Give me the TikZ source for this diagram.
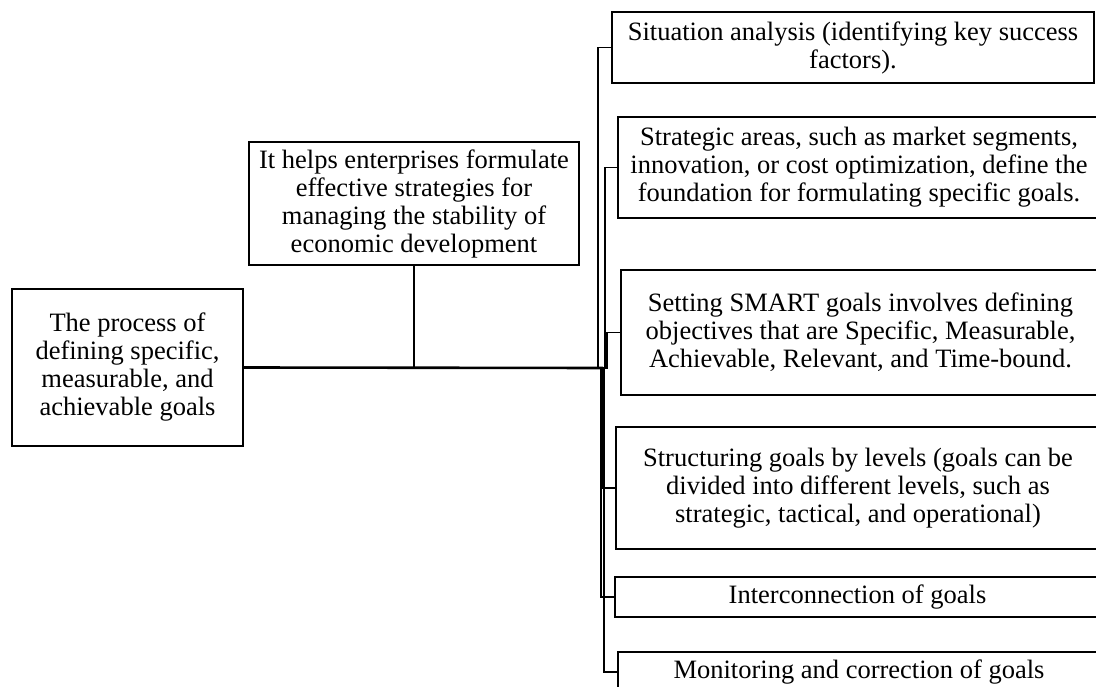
\documentclass[tikz,border=0pt]{standalone}
\usepackage{fontspec}
\setmainfont{Liberation Serif}
\begin{document}
\begin{tikzpicture}[x=1pt,y=-1pt,
    box/.style={draw, line width=2pt, align=center, inner sep=2pt,
                font=\fontsize{26.5}{28}\selectfont},
    link/.style={line width=1.7pt}]

    \useasboundingbox (0,0) rectangle (1096,687);

    % left and top boxes
    \node [box, minimum width=231pt, minimum height=157pt] (proc) at (127.5,367.5)
        {The process of\\defining specific,\\measurable, and\\achievable goals};
    \node [box, minimum width=330pt, minimum height=123pt] (helps) at (414,203.5)
        {It helps enterprises formulate\\effective strategies for\\managing the stability of\\economic development};

    % right column
    \node [box, minimum width=482pt, minimum height=71pt] (sit) at (853,47.5)
        {Situation analysis (identifying key success\\factors).};
    \node [box, minimum width=482pt, minimum height=101pt] (areas) at (859,167.5)
        {Strategic areas, such as market segments,\\innovation, or cost optimization, define the\\foundation for formulating specific goals.};
    \node [box, minimum width=479pt, minimum height=125pt] (smart) at (860.5,332.5)
        {Setting SMART goals involves defining\\objectives that are Specific, Measurable,\\Achievable, Relevant, and Time-bound.};
    \node [box, minimum width=484pt, minimum height=122pt] (levels) at (858,488)
        {Structuring goals by levels (goals can be\\divided into different levels, such as\\strategic, tactical, and operational)};
    \node [box, minimum width=485pt, minimum height=40pt] (inter) at (857.5,597)
        {Interconnection of goals};
    \node [box, minimum width=482pt, minimum height=40pt] (monit) at (859,672)
        {Monitoring and correction of goals};

    \coordinate (hub) at (603,368);

    \draw [link, line width=2.6pt] (proc.east) -- (hub);
    \draw [link] (helps.south) -- (helps.south |- hub);

    \draw [link] (hub) -- ++(-5,0) |- (sit.west);
    \draw [link] (hub) -- ++(2,0) |- (areas.west);
    \draw [link] (hub) -- ++(4,0) |- (smart.west);
    \draw [link] (hub) |- (levels.west);
    \draw [link] (hub) -- ++(-2,0) |- (inter.west);
    \draw [link] (hub) -- ++(1,0) |- (monit.west);

\end{tikzpicture}
\end{document}
